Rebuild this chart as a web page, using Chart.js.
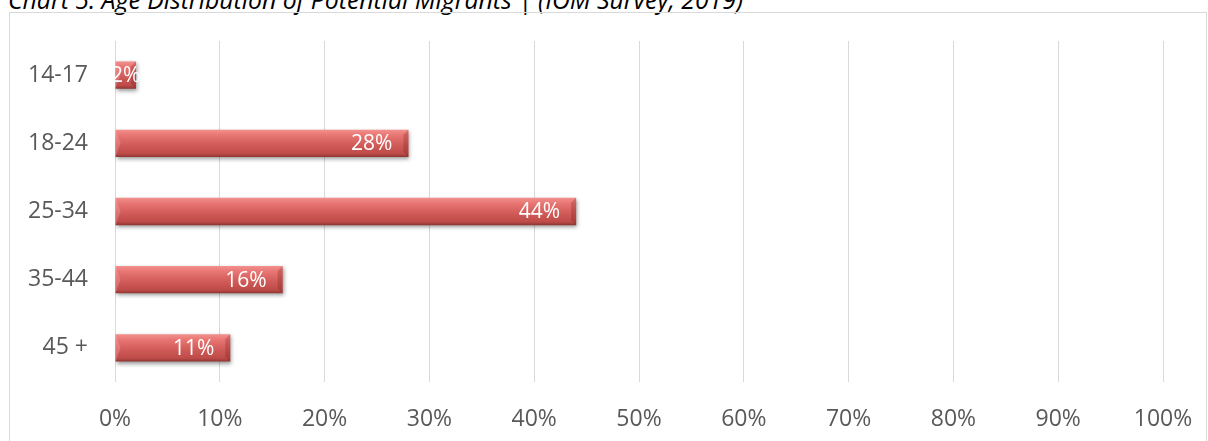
<!DOCTYPE html>
<html>
<head>
<meta charset="utf-8">
<script src="https://cdn.jsdelivr.net/npm/chart.js@4"></script>
<style>
  html, body { margin: 0; padding: 0; background: #fff; overflow: hidden; }
  #wrap { position: relative; width: 1208px; height: 441px; }
  #title {
    position: absolute; left: 8px; top: -15px; white-space: nowrap;
    font: italic 24.8px "Open Sans", sans-serif; color: #000; line-height: 29px;
  }
  #frame {
    position: absolute; left: 9px; top: 12px; width: 1196px; height: 440px;
    border: 1px solid #d9d9d9;
  }
  #chartBox { position: absolute; left: 0; top: 0; width: 1208px; height: 441px; }
</style>
</head>
<body>
<div id="wrap">
  <div id="title">Chart 5: Age Distribution of Potential Migrants | (IOM Survey, 2019)</div>
  <div id="frame"></div>
  <div id="chartBox"><canvas id="ageChart"></canvas></div>
</div>
<script>
// age groups and share of potential migrants (%)
const ageGroups = ["14-17", "18-24", "25-34", "35-44", "45 +"];
const shares = [2, 28, 44, 16, 11];
const axisMax = 100;
const axisStep = 10;

// red bars with a bit of a bevel look
const barShading = {
  id: "barShading",
  beforeDatasetsDraw(chart) {
    const ctx = chart.ctx;
    chart.getDatasetMeta(0).data.forEach(el => {
      const top = el.y - el.height / 2;
      const bottom = el.y + el.height / 2;
      const g = ctx.createLinearGradient(0, top, 0, bottom);
      g.addColorStop(0, "#f2908d");
      g.addColorStop(0.2, "#e87673");
      g.addColorStop(0.55, "#d15c59");
      g.addColorStop(0.88, "#bd4b48");
      g.addColorStop(1, "#8e3532");
      el.options = Object.assign({}, el.options, { backgroundColor: g });
    });
  },
  beforeDatasetDraw(chart) {
    const ctx = chart.ctx;
    ctx.save();
    ctx.shadowColor = "rgba(0,0,0,0.4)";
    ctx.shadowBlur = 4;
    ctx.shadowOffsetX = 1;
    ctx.shadowOffsetY = 2;
  },
  afterDatasetDraw(chart) {
    chart.ctx.restore();
  },
  afterDatasetsDraw(chart) {
    const ctx = chart.ctx;
    chart.getDatasetMeta(0).data.forEach((el, i) => {
      const top = el.y - el.height / 2;
      const bottom = el.y + el.height / 2;
      const b = 5;
      // bevel edges
      ctx.save();
      ctx.fillStyle = "rgba(110,25,25,0.25)";
      ctx.beginPath();
      ctx.moveTo(el.x, top);
      ctx.lineTo(el.x - b, top + b);
      ctx.lineTo(el.x - b, bottom - b);
      ctx.lineTo(el.x, bottom);
      ctx.closePath();
      ctx.fill();
      ctx.fillStyle = "rgba(255,200,200,0.25)";
      ctx.beginPath();
      ctx.moveTo(el.base, top);
      ctx.lineTo(el.base + b, el.y);
      ctx.lineTo(el.base, bottom);
      ctx.closePath();
      ctx.fill();
      ctx.restore();

      // data label
      const txt = shares[i] + "%";
      ctx.save();
      ctx.font = "21px 'Open Sans', sans-serif";
      ctx.fillStyle = "#ffffff";
      ctx.textBaseline = "middle";
      const w = ctx.measureText(txt).width;
      const barW = el.x - el.base;
      if (w + 32 <= barW) {
        ctx.textAlign = "right";
        ctx.fillText(txt, el.x - 16, el.y + 1);
      } else {
        ctx.textAlign = "center";
        ctx.fillText(txt, (el.x + el.base) / 2, el.y + 1);
      }
      ctx.restore();
    });
  }
};

new Chart(document.getElementById("ageChart"), {
  type: "bar",
  data: {
    labels: ageGroups,
    datasets: [{
      data: shares,
      backgroundColor: "#d25a57",
      borderWidth: 0,
      barPercentage: 0.4,
      categoryPercentage: 1.0
    }]
  },
  options: {
    indexAxis: "y",
    responsive: true,
    maintainAspectRatio: false,
    animation: false,
    layout: { padding: { top: 41, right: 45, left: 0, bottom: 0 } },
    plugins: {
      legend: { display: false },
      tooltip: { enabled: false }
    },
    scales: {
      x: {
        min: 0,
        max: axisMax,
        border: { display: false },
        grid: { color: "#d9d9d9", lineWidth: 1, drawTicks: false },
        ticks: {
          stepSize: axisStep,
          padding: 24,
          color: "#595959",
          font: { family: "'Open Sans', sans-serif", size: 23 },
          callback: v => v + "%"
        },
        afterFit: s => { s.height = 59; s.paddingLeft = 0; s.paddingRight = 0; }
      },
      y: {
        border: { display: false },
        grid: { display: false, drawTicks: false },
        ticks: {
          padding: 27,
          color: "#595959",
          font: { family: "'Open Sans', sans-serif", size: 23 }
        },
        afterFit: s => { s.width = 115; s.paddingTop = 0; s.paddingBottom = 0; }
      }
    }
  },
  plugins: [barShading]
});
</script>
</body>
</html>
